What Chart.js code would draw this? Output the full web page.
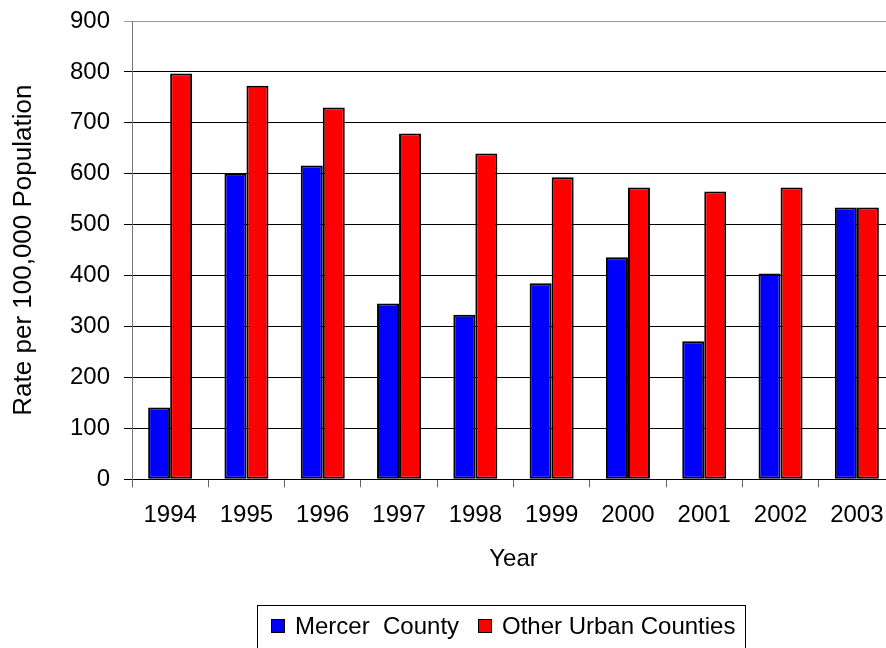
<!DOCTYPE html>
<html>
<head>
<meta charset="utf-8">
<script src="https://cdn.jsdelivr.net/npm/chart.js@4.4.1/dist/chart.umd.min.js"></script>
<style>
  html, body { margin: 0; padding: 0; overflow: hidden; background: #fff; }
  #wrap { position: relative; width: 900px; height: 648px; }
</style>
</head>
<body>
<div id="wrap"><canvas id="chart"></canvas></div>
<script>
// chart data
const years = ['1994', '1995', '1996', '1997', '1998', '1999', '2000', '2001', '2002', '2003'];
const seriesNames = ['Mercer  County', 'Other Urban Counties'];
const mercerCounty = [141, 600, 616, 345, 323, 385, 436, 271, 404, 534];
const otherUrbanCounties = [797, 773, 730, 679, 640, 593, 573, 565, 573, 534];
const yMin = 0;
const yMax = 900;
const yStep = 100;

const FONT_FAMILY = "'Liberation Sans', Arial, sans-serif";
const FONT_SIZE = 24;

Chart.defaults.font.family = FONT_FAMILY;
Chart.defaults.font.size = FONT_SIZE;
Chart.defaults.color = '#000';

// Excel-style legend: a framed box under the x axis
const boxLegend = {
  id: 'boxLegend',
  afterDraw(chart) {
    const ctx = chart.ctx;
    const itemX = [271, 478];
    ctx.save();
    ctx.strokeStyle = '#000';
    ctx.lineWidth = 1;
    ctx.strokeRect(257.5, 605.5, 488, 60);
    ctx.font = FONT_SIZE + 'px ' + FONT_FAMILY;
    ctx.textBaseline = 'alphabetic';
    ctx.textAlign = 'left';
    chart.data.datasets.forEach((ds, i) => {
      const x = itemX[i];
      ctx.fillStyle = ds.backgroundColor;
      ctx.fillRect(x, 619, 14, 14);
      ctx.strokeRect(x + 0.5, 619.5, 13, 13);
      ctx.fillStyle = '#000';
      ctx.fillText(ds.label, x + 24, 634);
    });
    ctx.restore();
  }
};

new Chart(document.getElementById('chart'), {
  type: 'bar',
  data: {
    labels: years,
    datasets: [
      {
        label: seriesNames[0],
        data: mercerCounty,
        backgroundColor: '#0000ff',
        borderColor: '#000',
        borderWidth: 2,
        borderSkipped: false,
      },
      {
        label: seriesNames[1],
        data: otherUrbanCounties,
        backgroundColor: '#ff0000',
        borderColor: '#000',
        borderWidth: 2,
        borderSkipped: false,
      },
    ],
  },
  options: {
    responsive: true,
    maintainAspectRatio: false,
    animation: false,
    events: [],
    categoryPercentage: 0.577,
    barPercentage: 1,
    layout: {
      padding: { top: 21, right: 5, bottom: 68.7, left: 0 },
    },
    plugins: {
      legend: { display: false },
      tooltip: { enabled: false },
    },
    scales: {
      x: {
        offset: true,
        afterFit(scale) { scale.height = 100; },
        grid: {
          offset: true,
          drawOnChartArea: false,
          drawTicks: true,
          tickLength: 8,
          color: '#666',
        },
        border: { display: true, color: '#000', width: 1 },
        ticks: { padding: 14, maxRotation: 0, autoSkip: false },
        title: {
          display: true,
          text: 'Year',
          padding: { top: 0, bottom: 6 },
        },
      },
      y: {
        min: yMin,
        max: yMax,
        afterFit(scale) {
          scale.width = 132;
          scale.paddingTop = 0;
          scale.paddingBottom = 0;
        },
        grid: {
          color: (c) => (c.tick && c.tick.value === yMax ? '#999' : '#000'),
          tickLength: 8,
          drawTicks: true,
        },
        border: { display: true, color: '#777', width: 1 },
        ticks: { stepSize: yStep, padding: 14 },
        title: {
          display: true,
          text: 'Rate per 100,000 Population',
          font: { size: 26 },
          padding: { top: 8, bottom: 0 },
        },
      },
    },
  },
  plugins: [boxLegend],
});
</script>
</body>
</html>
